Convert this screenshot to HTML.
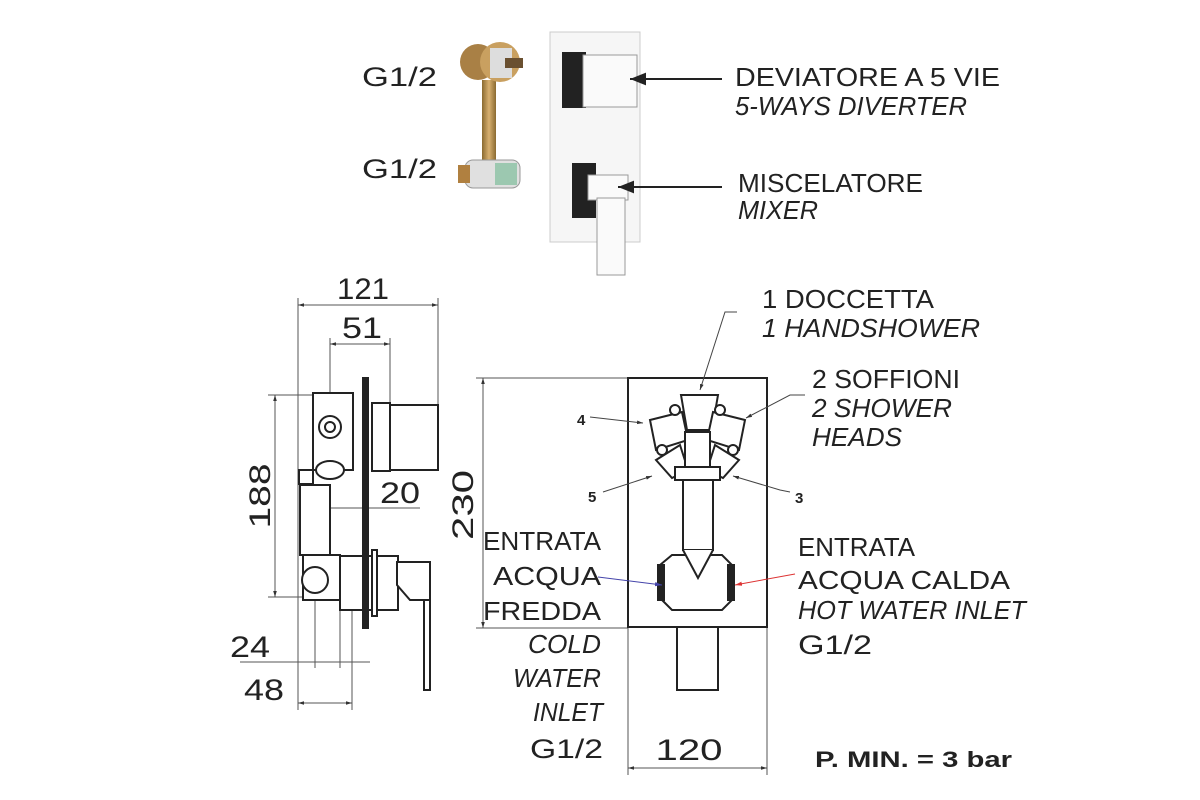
<!DOCTYPE html>
<html><head><meta charset="utf-8"><style>
html,body{margin:0;padding:0;background:#fff;}
svg{display:block;}
text{font-family:"Liberation Sans",sans-serif;fill:#222;}
</style></head><body>
<svg width="1200" height="800" viewBox="0 0 1200 800" xmlns="http://www.w3.org/2000/svg">
<defs>
<marker id="ah" viewBox="0 0 10 10" refX="10" refY="5" markerWidth="8" markerHeight="8" orient="auto-start-reverse"><path d="M0,1 L10,5 L0,9 z" fill="#222"/></marker>
<marker id="as" viewBox="0 0 10 10" refX="10" refY="5" markerWidth="6" markerHeight="6" orient="auto-start-reverse"><path d="M0,2 L10,5 L0,8 z" fill="#333"/></marker>
<marker id="ab" viewBox="0 0 10 10" refX="10" refY="5" markerWidth="7" markerHeight="7" orient="auto"><path d="M0,2 L10,5 L0,8 z" fill="#44a"/></marker>
<marker id="ar" viewBox="0 0 10 10" refX="10" refY="5" markerWidth="7" markerHeight="7" orient="auto"><path d="M0,2 L10,5 L0,8 z" fill="#d33"/></marker>
<linearGradient id="brass" x1="0" x2="1"><stop offset="0" stop-color="#8a6a30"/><stop offset=".5" stop-color="#d8b070"/><stop offset="1" stop-color="#8a6a30"/></linearGradient>
</defs>

<!-- top photo -->
<rect x="550" y="32" width="90" height="210" fill="#f6f6f6" stroke="#ccc"/>
<rect x="562" y="52" width="24" height="56" fill="#222"/>
<rect x="583" y="55" width="54" height="52" fill="#fafafa" stroke="#999"/>
<rect x="572" y="163" width="24" height="55" fill="#222"/>
<rect x="588" y="175" width="40" height="25" fill="#fafafa" stroke="#999"/>
<rect x="597" y="198" width="28" height="77" fill="#fafafa" stroke="#999"/>
<!-- valve body -->
<rect x="482" y="80" width="14" height="80" fill="url(#brass)"/>
<circle cx="478" cy="62" r="18" fill="#a98045"/>
<circle cx="500" cy="62" r="20" fill="#c9a060"/>
<rect x="490" y="48" width="22" height="30" fill="#ddd"/>
<rect x="505" y="58" width="18" height="10" fill="#6a5030"/>
<rect x="465" y="160" width="55" height="28" rx="8" fill="#e0e0e0" stroke="#999"/>
<rect x="458" y="165" width="12" height="18" fill="#b08040"/>
<rect x="495" y="163" width="22" height="22" fill="#9cc8b0"/>
<text x="362" y="86" font-size="27" textLength="75" lengthAdjust="spacingAndGlyphs">G1/2</text>
<text x="362" y="178" font-size="27" textLength="75" lengthAdjust="spacingAndGlyphs">G1/2</text>
<line x1="722" y1="79" x2="630" y2="79" stroke="#222" stroke-width="2" marker-end="url(#ah)"/>
<line x1="722" y1="187" x2="618" y2="187" stroke="#222" stroke-width="2" marker-end="url(#ah)"/>
<text x="735" y="86" font-size="26" textLength="265" lengthAdjust="spacingAndGlyphs">DEVIATORE A 5 VIE</text>
<text x="735" y="115" font-size="26" font-style="italic" textLength="232" lengthAdjust="spacingAndGlyphs">5-WAYS DIVERTER</text>
<text x="738" y="192" font-size="26" textLength="185" lengthAdjust="spacingAndGlyphs">MISCELATORE</text>
<text x="738" y="219" font-size="26" font-style="italic" textLength="80" lengthAdjust="spacingAndGlyphs">MIXER</text>

<!-- left side view -->
<g stroke="#555" stroke-width="1" fill="none">
<line x1="298" y1="298" x2="298" y2="710"/>
<line x1="438" y1="298" x2="438" y2="405"/>
<line x1="298" y1="305" x2="438" y2="305" marker-start="url(#as)" marker-end="url(#as)"/>
<line x1="330" y1="338" x2="330" y2="395"/>
<line x1="390" y1="338" x2="390" y2="405"/>
<line x1="330" y1="344" x2="390" y2="344" marker-start="url(#as)" marker-end="url(#as)"/>
<line x1="268" y1="395" x2="318" y2="395"/>
<line x1="268" y1="597" x2="310" y2="597"/>
<line x1="275" y1="395" x2="275" y2="597" marker-start="url(#as)" marker-end="url(#as)"/>
<line x1="300" y1="508" x2="420" y2="508"/>
<line x1="315" y1="590" x2="315" y2="668"/>
<line x1="340" y1="600" x2="340" y2="668"/>
<line x1="352" y1="600" x2="352" y2="710"/>
<line x1="240" y1="662" x2="370" y2="662"/>
<line x1="298" y1="703" x2="352" y2="703" marker-start="url(#as)" marker-end="url(#as)"/>
</g>
<text x="363" y="299" font-size="30" text-anchor="middle" textLength="52" lengthAdjust="spacingAndGlyphs">121</text>
<text x="362" y="338" font-size="30" text-anchor="middle" textLength="40" lengthAdjust="spacingAndGlyphs">51</text>
<text x="400" y="503" font-size="30" text-anchor="middle" textLength="40" lengthAdjust="spacingAndGlyphs">20</text>
<text x="230" y="657" font-size="30" textLength="40" lengthAdjust="spacingAndGlyphs">24</text>
<text x="244" y="700" font-size="30" textLength="40" lengthAdjust="spacingAndGlyphs">48</text>
<text transform="translate(270,496) rotate(-90)" font-size="30" text-anchor="middle" textLength="65" lengthAdjust="spacingAndGlyphs">188</text>
<text transform="translate(473,505) rotate(-90)" font-size="30" text-anchor="middle" textLength="70" lengthAdjust="spacingAndGlyphs">230</text>
<g stroke="#222" stroke-width="2" fill="#fff">
<rect x="313" y="393" width="40" height="77"/>
<rect x="300" y="485" width="30" height="70"/>
<rect x="303" y="555" width="37" height="45"/>
<rect x="372" y="403" width="18" height="68"/>
<rect x="390" y="405" width="48" height="65"/>
<rect x="340" y="556" width="58" height="54"/>
<rect x="372" y="550" width="5" height="66"/>
<path d="M397,562 L430,562 L430,600 L410,600 L397,585 z"/>
<rect x="424" y="600" width="6" height="90"/>
<rect x="363" y="378" width="5" height="250" fill="#222"/>
<circle cx="330" cy="427" r="11"/>
<circle cx="330" cy="427" r="5"/>
<ellipse cx="330" cy="470" rx="14" ry="9"/>
<circle cx="315" cy="580" r="13"/>
<rect x="299" y="470" width="14" height="14"/>
</g>

<!-- front view -->
<g stroke="#555" stroke-width="1" fill="none">
<line x1="476" y1="378" x2="628" y2="378"/>
<line x1="476" y1="628" x2="628" y2="628"/>
<line x1="483" y1="378" x2="483" y2="628" marker-start="url(#as)" marker-end="url(#as)"/>
<line x1="628" y1="628" x2="628" y2="775"/>
<line x1="767" y1="628" x2="767" y2="775"/>
<line x1="628" y1="768" x2="767" y2="768" marker-start="url(#as)" marker-end="url(#as)"/>
</g>
<g stroke="#222" stroke-width="2" fill="#fff">
<rect x="628" y="378" width="139" height="249"/>
<rect x="677" y="627" width="41" height="63"/>
<rect x="683" y="480" width="30" height="70"/>
<path d="M660,565 L672,555 L722,555 L732,565 L732,600 L722,610 L672,610 L662,600 z"/>
<path d="M683,550 L698,578 L713,550"/>
<rect x="658" y="565" width="6" height="35" fill="#222"/>
<rect x="728" y="565" width="6" height="35" fill="#222"/>
<path d="M681,395 L718,395 L712,430 L687,430 z"/>
<path d="M650,420 L682,412 L688,440 L656,450 z"/>
<path d="M745,420 L713,412 L707,440 L739,450 z"/>
<path d="M656,460 L680,445 L688,470 L672,478 z"/>
<path d="M739,460 L715,445 L707,470 L723,478 z"/>
<rect x="685" y="432" width="25" height="35"/>
<rect x="675" y="467" width="45" height="13"/>
<circle cx="675" cy="410" r="5"/><circle cx="720" cy="410" r="5"/>
<circle cx="662" cy="450" r="5"/><circle cx="733" cy="450" r="5"/>
</g>
<g stroke="#444" stroke-width="1" fill="none">
<line x1="590" y1="417" x2="643" y2="423" marker-end="url(#as)"/>
<line x1="603" y1="492" x2="652" y2="476" marker-end="url(#as)"/>
<polyline points="790,492 780,490 733,476" marker-end="url(#as)"/>
<polyline points="737,312 725,312 700,390" marker-end="url(#as)"/>
<polyline points="805,395 790,395 746,418" marker-end="url(#as)"/>
<line x1="598" y1="577" x2="662" y2="585" stroke="#44a" marker-end="url(#ab)"/>
<line x1="795" y1="574" x2="735" y2="585" stroke="#d33" marker-end="url(#ar)"/>
</g>
<text x="577" y="425" font-size="15" font-weight="bold">4</text>
<text x="588" y="502" font-size="15" font-weight="bold">5</text>
<text x="795" y="503" font-size="15" font-weight="bold">3</text>

<text x="762" y="308" font-size="26" textLength="172" lengthAdjust="spacingAndGlyphs">1 DOCCETTA</text>
<text x="762" y="337" font-size="26" font-style="italic" textLength="218" lengthAdjust="spacingAndGlyphs">1 HANDSHOWER</text>
<text x="812" y="388" font-size="26" textLength="148" lengthAdjust="spacingAndGlyphs">2 SOFFIONI</text>
<text x="812" y="417" font-size="26" font-style="italic" textLength="140" lengthAdjust="spacingAndGlyphs">2 SHOWER</text>
<text x="812" y="446" font-size="26" font-style="italic" textLength="90" lengthAdjust="spacingAndGlyphs">HEADS</text>
<text x="798" y="556" font-size="26" textLength="117" lengthAdjust="spacingAndGlyphs">ENTRATA</text>
<text x="798" y="589" font-size="26" textLength="212" lengthAdjust="spacingAndGlyphs">ACQUA CALDA</text>
<text x="798" y="619" font-size="26" font-style="italic" textLength="228" lengthAdjust="spacingAndGlyphs">HOT WATER INLET</text>
<text x="798" y="654" font-size="27" textLength="74" lengthAdjust="spacingAndGlyphs">G1/2</text>
<g font-size="26" text-anchor="end">
<text x="601" y="550" textLength="118" lengthAdjust="spacingAndGlyphs">ENTRATA</text>
<text x="601" y="585" textLength="108" lengthAdjust="spacingAndGlyphs">ACQUA</text>
<text x="601" y="620" textLength="118" lengthAdjust="spacingAndGlyphs">FREDDA</text>
<text x="601" y="653" font-style="italic" textLength="73" lengthAdjust="spacingAndGlyphs">COLD</text>
<text x="601" y="687" font-style="italic" textLength="88" lengthAdjust="spacingAndGlyphs">WATER</text>
<text x="603" y="721" font-style="italic" textLength="70" lengthAdjust="spacingAndGlyphs">INLET</text>
<text x="603" y="758" font-size="27" textLength="73" lengthAdjust="spacingAndGlyphs">G1/2</text>
</g>
<text x="689" y="760" font-size="30" text-anchor="middle" textLength="67" lengthAdjust="spacingAndGlyphs">120</text>
<text x="815" y="767" font-size="22" font-weight="bold" textLength="197" lengthAdjust="spacingAndGlyphs">P. MIN. = 3 bar</text>
</svg>
</body></html>
